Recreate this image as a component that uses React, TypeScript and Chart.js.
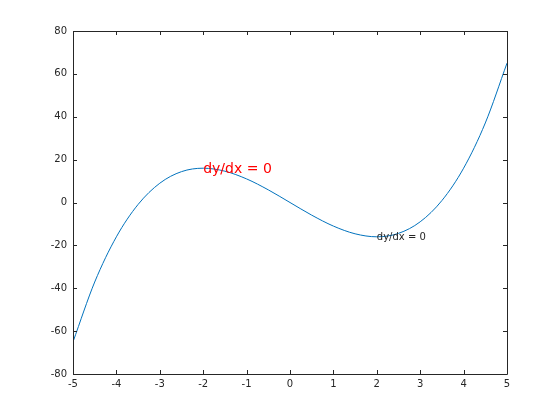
import React, { useEffect, useRef } from "react";
import { Chart, registerables } from "chart.js";

Chart.register(...registerables);

const xValues = [-5, -4.5, -4, -3.5, -3, -2.5, -2, -1.5, -1, -0.5, 0, 0.5, 1, 1.5, 2, 2.5, 3, 3.5, 4, 4.5, 5];
const yValues = [-65, -37.1, -16, -0.9, 9, 14.4, 16, 14.6, 11, 5.9, 0, -5.9, -11, -14.6, -16, -14.4, -9, 0.9, 16, 37.1, 65];
const xTicks = [-5, -4, -3, -2, -1, 0, 1, 2, 3, 4, 5];
const yTicks = [-80, -60, -40, -20, 0, 20, 40, 60, 80];
const annotations = [
  { x: -2, y: 16, text: "dy/dx = 0", color: "#ff0000", size: 14, dy: 5 },
  { x: 2, y: -16, text: "dy/dx = 0", color: "#262626", size: 10, dy: 3.5 },
];

const FONT = "'DejaVu Sans', sans-serif";

const boxPlugin = {
  id: "octaveBox",
  afterDraw(chart: any) {
    const { ctx, chartArea: a, scales } = chart;
    const xs = scales.x;
    const ys = scales.y;
    ctx.save();
    ctx.strokeStyle = "#262626";
    ctx.lineWidth = 1;
    ctx.beginPath();
    ctx.rect(Math.round(a.left) + 0.5, Math.round(a.top) + 0.5, Math.round(a.right - a.left), Math.round(a.bottom - a.top));
    ctx.stroke();
    const tl = 4;
    ctx.beginPath();
    for (const v of xTicks) {
      const px = Math.round(xs.getPixelForValue(v)) + 0.5;
      ctx.moveTo(px, a.bottom);
      ctx.lineTo(px, a.bottom - tl);
      ctx.moveTo(px, a.top);
      ctx.lineTo(px, a.top + tl);
    }
    for (const v of yTicks) {
      const py = Math.round(ys.getPixelForValue(v)) + 0.5;
      ctx.moveTo(a.left, py);
      ctx.lineTo(a.left + tl, py);
      ctx.moveTo(a.right, py);
      ctx.lineTo(a.right - tl, py);
    }
    ctx.stroke();
    for (const an of annotations) {
      ctx.fillStyle = an.color;
      ctx.font = `${an.size}px ${FONT}`;
      ctx.textAlign = "left";
      ctx.textBaseline = "alphabetic";
      ctx.fillText(an.text, xs.getPixelForValue(an.x), ys.getPixelForValue(an.y) + an.dy);
    }
    ctx.restore();
  },
};

export default function App() {
  const ref = useRef<HTMLCanvasElement | null>(null);
  useEffect(() => {
    document.body.style.margin = "0";
    const canvas = ref.current!;
    const chart = new Chart(canvas, {
      type: "line",
      data: {
        datasets: [
          {
            data: xValues.map((x, i) => ({ x, y: yValues[i] })),
            borderColor: "#0072BD",
            borderWidth: 1,
            pointRadius: 0,
            cubicInterpolationMode: "monotone",
            fill: false,
          },
        ],
      },
      options: {
        responsive: false,
        animation: false,
        events: [],
        layout: { padding: { left: 0, top: 31, right: 53, bottom: 0 } },
        plugins: { legend: { display: false }, tooltip: { enabled: false } },
        scales: {
          x: {
            type: "linear",
            min: -5,
            max: 5,
            afterBuildTicks: (s: any) => {
              s.ticks = xTicks.map((v) => ({ value: v }));
            },
            afterFit: (s: any) => {
              s.height = 46;
            },
            grid: { display: false, drawTicks: false, tickLength: 0 },
            border: { display: false },
            ticks: {
              color: "#262626",
              font: { family: FONT, size: 10 },
              padding: 4,
              maxRotation: 0,
              autoSkip: false,
              callback: (v: any) => String(v),
            },
          },
          y: {
            type: "linear",
            min: -80,
            max: 80,
            afterBuildTicks: (s: any) => {
              s.ticks = yTicks.map((v) => ({ value: v }));
            },
            afterFit: (s: any) => {
              s.width = 73;
            },
            grid: { display: false, drawTicks: false, tickLength: 0 },
            border: { display: false },
            ticks: {
              color: "#262626",
              font: { family: FONT, size: 10 },
              padding: 6,
              autoSkip: false,
              callback: (v: any) => String(v),
            },
          },
        },
      },
      plugins: [boxPlugin],
    } as any);
    return () => chart.destroy();
  }, []);
  return <canvas ref={ref} width={560} height={420} style={{ display: "block" }} />;
}
